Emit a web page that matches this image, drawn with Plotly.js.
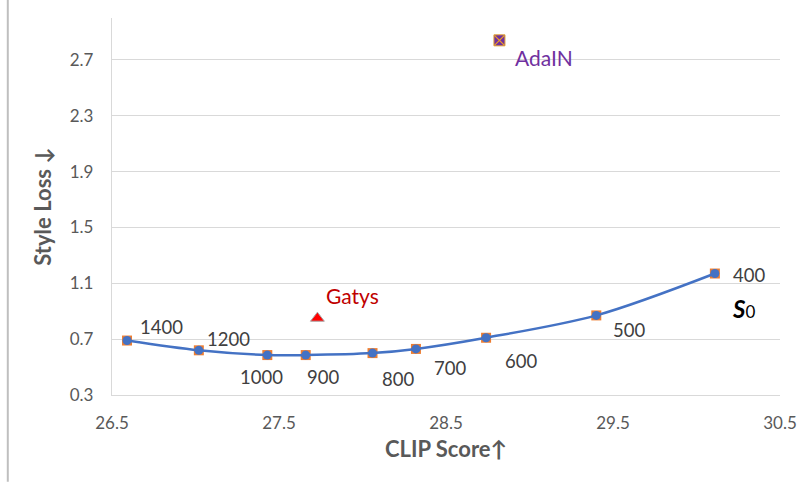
<!DOCTYPE html>
<html>
<head>
<meta charset="utf-8">
<script src="https://cdn.plot.ly/plotly-3.0.1.min.js"></script>
<style>html,body{margin:0;padding:0;background:#fff;}#chart{width:808px;height:484px;}</style>
</head>
<body>
<div id="chart"></div>
<script>
// ---- data ----
const stepLabels = ["1400", "1200", "1000", "900", "800", "700", "600", "500", "400"];
const clipScore  = [26.59, 27.02, 27.43, 27.66, 28.06, 28.32, 28.74, 29.40, 30.11];
const styleLoss  = [0.69, 0.62, 0.586, 0.586, 0.60, 0.63, 0.71, 0.87, 1.17];
const gatysX = [27.73];
const gatysY = [0.85];
const adainX = [28.82];
const adainY = [2.84];

// ---- label offsets (px) ----
const labelOffsets = [[34,14],[30,11],[-6,-22],[17,-22],[25,-26],[34,-19],[35,-23],[33,-15],[34,-1]];

const traces = [
  {x: clipScore, y: styleLoss, mode: 'markers', type: 'scatter',
   marker: {symbol: 'square', size: 10, color: '#ED7D31'}, hoverinfo: 'skip'},
  {x: clipScore, y: styleLoss, mode: 'lines+markers', type: 'scatter',
   line: {color: '#4472C4', width: 2.5, shape: 'spline', smoothing: 0.9},
   marker: {symbol: 'circle', size: 9, color: '#4472C4'}},
  {x: gatysX, y: gatysY, mode: 'markers', type: 'scatter',
   marker: {symbol: 'triangle-up', size: 12, color: '#FF0000', line: {color: '#A6A6A6', width: 1}}},
  {x: adainX, y: adainY, mode: 'markers', type: 'scatter',
   marker: {symbol: 'square', size: 11, color: '#7030A0', line: {color: '#E0A030', width: 1}}},
  {x: adainX, y: adainY, mode: 'markers', type: 'scatter',
   marker: {symbol: 'x-thin', size: 10, color: '#F0A020', line: {color: '#F0A020', width: 1.2}}}
];

const annotations = stepLabels.map((t, i) => ({
  x: clipScore[i], y: styleLoss[i], text: t, showarrow: false,
  xanchor: 'center', yanchor: 'middle',
  xshift: labelOffsets[i][0], yshift: labelOffsets[i][1],
  font: {family: 'Lato, "Open Sans", sans-serif', size: 18.5, color: '#404040'}
}));
annotations.push({x: gatysX[0], y: gatysY[0], text: 'Gatys', showarrow: false,
  xanchor: 'center', yanchor: 'middle', xshift: 35, yshift: 23,
  font: {family: 'Lato, "Open Sans", sans-serif', size: 21, color: '#C00000'}});
annotations.push({x: adainX[0], y: adainY[0], text: 'AdaIN', showarrow: false,
  xanchor: 'center', yanchor: 'middle', xshift: 45, yshift: -17,
  font: {family: 'Lato, "Open Sans", sans-serif', size: 21, color: '#7030A0'}});
annotations.push({x: clipScore[8], y: styleLoss[8], showarrow: false,
  text: '<b><i>S</i></b><span style="font-size:17px">0</span>',
  xanchor: 'center', yanchor: 'middle', xshift: 29, yshift: -35,
  font: {family: 'Lato, "Open Sans", sans-serif', size: 24, color: '#000000'}});

const layout = {
  width: 808, height: 484,
  margin: {l: 112, r: 28, t: 18, b: 89},
  paper_bgcolor: '#ffffff', plot_bgcolor: '#ffffff',
  showlegend: false,
  font: {family: 'Lato, "Open Sans", sans-serif', color: '#595959'},
  xaxis: {
    range: [26.5, 30.5], tick0: 26.5, dtick: 1, tickmode: 'linear',
    showgrid: false, zeroline: false, showline: true, linecolor: '#D9D9D9', linewidth: 1.2,
    ticks: '', ticklabelstandoff: 12,
    tickfont: {size: 17, color: '#595959'},
    title: {text: '<b>CLIP Score↑</b>', font: {size: 22, color: '#595959'}, standoff: 10}
  },
  yaxis: {
    range: [0.3, 3.0], tick0: 0.3, dtick: 0.4, tickmode: 'linear',
    tickformat: '.1f',
    showgrid: true, gridcolor: '#D9D9D9', gridwidth: 1.2, zeroline: false,
    showline: true, linecolor: '#D9D9D9', linewidth: 1.2,
    ticks: '', ticklabelstandoff: 14,
    tickfont: {size: 17, color: '#595959'},
    title: {text: '<b>Style Loss ↓</b>', font: {size: 22, color: '#595959'}, standoff: 12}
  },
  annotations: annotations,
  shapes: [{type: 'line', xref: 'paper', yref: 'paper',
    x0: -0.156, x1: -0.156, y0: -0.23, y1: 1.05,
    line: {color: '#BFBFBF', width: 2}}]
};

Plotly.newPlot('chart', traces, layout, {displayModeBar: false, staticPlot: true});
</script>
</body>
</html>
